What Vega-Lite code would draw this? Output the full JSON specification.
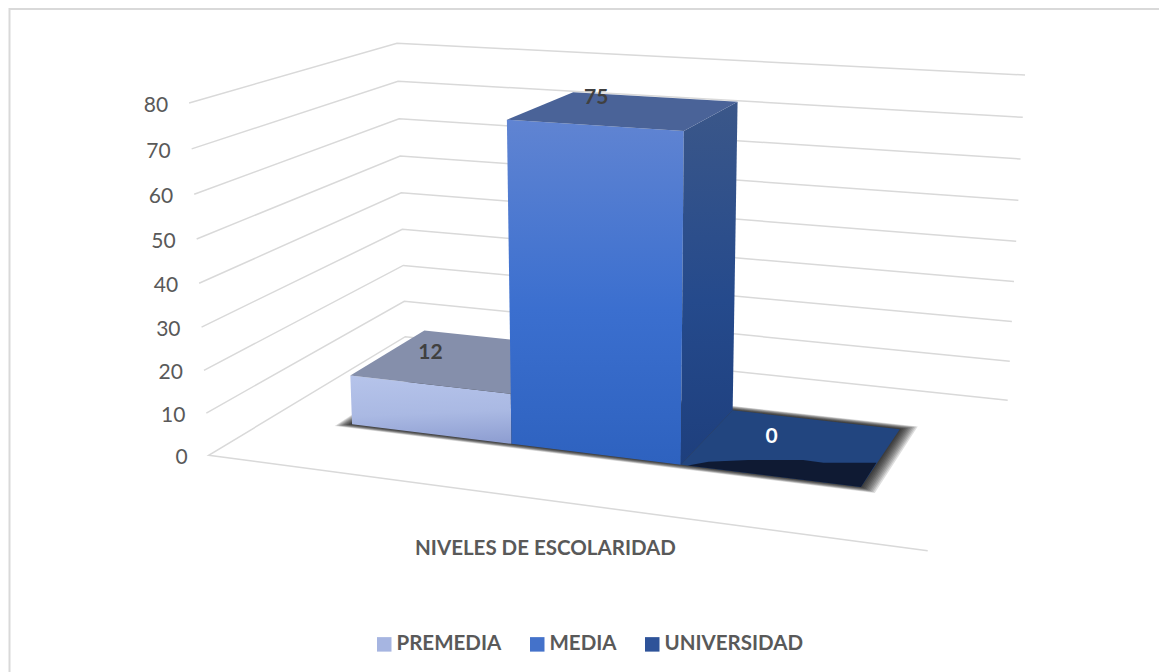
{
  "$schema": "https://vega.github.io/schema/vega-lite/v6.json",
  "width": 1159,
  "height": 672,
  "padding": 0,
  "autosize": {"type": "none"},
  "background": "#ffffff",
  "config": {"view": {"stroke": null}, "font": "Lato"},
  "datasets": {
    "niveles": [
      {"nivel": "PREMEDIA", "valor": 12, "orden": 0},
      {"nivel": "MEDIA", "valor": 75, "orden": 1},
      {"nivel": "UNIVERSIDAD", "valor": 0, "orden": 2}
    ],
    "marcas": [
      {"marca": 0}, {"marca": 10}, {"marca": 20}, {"marca": 30}, {"marca": 40},
      {"marca": 50}, {"marca": 60}, {"marca": 70}, {"marca": 80}
    ],
    "pasos": [
      {"paso": 1}, {"paso": 2}, {"paso": 3}, {"paso": 4}, {"paso": 5},
      {"paso": 6}, {"paso": 7}, {"paso": 8}, {"paso": 9}, {"paso": 10}
    ]
  },
  "data": {"name": "niveles"},
  "transform": [
    {"calculate": "0.125 + 0.25 * datum.orden", "as": "u0"},
    {"calculate": "datum.u0 + 0.25", "as": "u1"},
    {"calculate": "datum.valor / 80", "as": "alto"},
    {"calculate": "['frente', 'lado', 'tapa']", "as": "cara"},
    {"flatten": ["cara"]},
    {"calculate": "[0, 1, 2, 3]", "as": "esquina"},
    {"flatten": ["esquina"]},
    {"calculate": "datum.cara == 'lado' ? datum.u1 : (datum.esquina == 1 || datum.esquina == 2 ? datum.u1 : datum.u0)", "as": "u"},
    {"calculate": "datum.cara == 'frente' ? 0.3 : datum.cara == 'lado' ? (datum.esquina == 1 || datum.esquina == 2 ? 0.7 : 0.3) : (datum.esquina >= 2 ? 0.7 : 0.3)", "as": "w"},
    {"calculate": "datum.cara == 'tapa' ? datum.alto : (datum.esquina >= 2 ? datum.alto : 0)", "as": "t"},
    {"calculate": "1 - 0.12269 * datum.u + 0.20985 * datum.w - 0.046 * datum.t", "as": "d"},
    {"calculate": "(605.18 * datum.u + 281.65 * datum.w - 28.3 * datum.t + 208.7) / datum.d", "as": "px"},
    {"calculate": "(27.83 * datum.u - 47.94 * datum.w - 357.04 * datum.t + 455.3) / datum.d", "as": "py"}
  ],
  "encoding": {
    "x": {
      "field": "px", "type": "quantitative",
      "scale": {"domain": [0, 1159], "range": [0, 1159], "nice": false, "zero": false},
      "axis": {"orient": "bottom", "domain": false, "ticks": false, "labels": false, "grid": false, "title": "NIVELES DE ESCOLARIDAD", "titleFont": "Lato", "titleFontSize": 20.5, "titleFontWeight": "bold", "titleColor": "#595959", "titleAnchor": "middle", "titleAlign": "center", "titleBaseline": "alphabetic", "titleX": 545, "titleY": -118}
    },
    "y": {"field": "py", "type": "quantitative", "scale": {"domain": [0, 672], "range": [0, 672], "nice": false, "zero": false}, "axis": null},
    "order": {"field": "esquina", "type": "quantitative"}
  },
  "layer": [
    {
      "description": "Marco del grafico",
      "data": {"values": [{"a": 0}]},
      "transform": [],
      "mark": {"type": "rect", "fill": null, "stroke": "#d9d9d9", "strokeWidth": 2},
      "encoding": {
        "x": {"value": 9.5},
        "x2": {"value": 1170},
        "y": {"value": 9},
        "y2": {"value": 690},
        "order": null
      }
    },
    {
      "description": "Lineas de division sobre las paredes y el suelo",
      "data": {"name": "marcas"},
      "transform": [
        {"calculate": "datum.marca / 80", "as": "t"},
        {"calculate": "[0, 1, 2, 3]", "as": "esquina"},
        {"flatten": ["esquina"]},
        {"filter": "datum.esquina > 0 || datum.marca == 0"},
        {"calculate": "datum.esquina == 0 || datum.esquina == 3 ? 1 : 0", "as": "u"},
        {"calculate": "datum.esquina >= 2 ? 1 : 0", "as": "w"},
        {"calculate": "1 - 0.12269 * datum.u + 0.20985 * datum.w - 0.046 * datum.t", "as": "d"},
        {"calculate": "(605.18 * datum.u + 281.65 * datum.w - 28.3 * datum.t + 208.7) / datum.d", "as": "px"},
        {"calculate": "(27.83 * datum.u - 47.94 * datum.w - 357.04 * datum.t + 455.3) / datum.d", "as": "py"}
      ],
      "mark": {"type": "line", "stroke": "#d9d9d9", "strokeWidth": 1.5},
      "encoding": {"detail": {"field": "marca"}}
    },
    {
      "description": "Etiquetas del eje de valores",
      "data": {"name": "marcas"},
      "transform": [
        {"calculate": "datum.marca / 80", "as": "t"},
        {"calculate": "1 - 0.046 * datum.t", "as": "d"},
        {"calculate": "(208.7 - 28.3 * datum.t) / datum.d", "as": "px"},
        {"calculate": "(455.3 - 357.04 * datum.t) / datum.d", "as": "py"}
      ],
      "mark": {"type": "text", "align": "right", "baseline": "middle", "dx": -21, "dy": 3, "fontSize": 21, "font": "Lato", "color": "#595959"},
      "encoding": {"text": {"field": "marca"}, "order": null}
    },
    {
      "description": "Sombra difusa bajo la fila de barras",
      "data": {"name": "pasos"},
      "transform": [
        {"calculate": "[0, 1, 2, 3]", "as": "esquina"},
        {"flatten": ["esquina"]},
        {"calculate": "datum.esquina == 1 || datum.esquina == 2 ? 0.875 + 0.0022 * datum.paso : 0.125 - 0.002 * datum.paso", "as": "u"},
        {"calculate": "datum.esquina >= 2 ? 0.7 + 0.0032 * datum.paso : 0.3 - 0.0025 * datum.paso", "as": "w"},
        {"calculate": "1 - 0.12269 * datum.u + 0.20985 * datum.w", "as": "d"},
        {"calculate": "(605.18 * datum.u + 281.65 * datum.w + 208.7) / datum.d", "as": "px"},
        {"calculate": "(27.83 * datum.u - 47.94 * datum.w + 455.3) / datum.d", "as": "py"}
      ],
      "mark": {"type": "line", "fill": "#000000", "fillOpacity": 0.13, "strokeOpacity": 0},
      "encoding": {"detail": {"field": "paso"}}
    },
    {
      "transform": [{"filter": "datum.nivel == 'PREMEDIA' && datum.cara == 'frente'"}],
      "mark": {"type": "line", "strokeOpacity": 0, "fill": {"gradient": "linear", "x1": 0.45, "y1": 0, "x2": 0.55, "y2": 1, "stops": [{"offset": 0, "color": "#b5c3ea"}, {"offset": 0.55, "color": "#aab9e3"}, {"offset": 1, "color": "#8f9fd2"}]}}
    },
    {
      "transform": [{"filter": "datum.nivel == 'PREMEDIA' && datum.cara == 'tapa'"}],
      "mark": {"type": "line", "strokeOpacity": 0, "fill": "#858fab"}
    },
    {
      "transform": [{"filter": "datum.nivel == 'MEDIA' && datum.cara == 'frente'"}],
      "mark": {"type": "line", "strokeOpacity": 0, "fill": {"gradient": "linear", "x1": 0.5, "y1": 0, "x2": 0.5, "y2": 1, "stops": [{"offset": 0, "color": "#6084d2"}, {"offset": 0.55, "color": "#3b6fcf"}, {"offset": 1, "color": "#2e62bf"}]}}
    },
    {
      "transform": [{"filter": "datum.nivel == 'MEDIA' && datum.cara == 'lado'"}],
      "mark": {"type": "line", "strokeOpacity": 0, "fill": {"gradient": "linear", "x1": 0.5, "y1": 0, "x2": 0.5, "y2": 1, "stops": [{"offset": 0, "color": "#3b5789"}, {"offset": 0.55, "color": "#254a8c"}, {"offset": 1, "color": "#1e3f7d"}]}}
    },
    {
      "transform": [{"filter": "datum.nivel == 'MEDIA' && datum.cara == 'tapa'"}],
      "mark": {"type": "line", "strokeOpacity": 0, "fill": "#4a6398"}
    },
    {
      "transform": [{"filter": "datum.nivel == 'UNIVERSIDAD' && datum.cara == 'tapa'"}],
      "mark": {"type": "line", "strokeOpacity": 0, "fill": "#22457f"}
    },
    {
      "description": "Zona oscura al frente de la barra de altura cero",
      "data": {"name": "niveles"},
      "transform": [
        {"filter": "datum.valor == 0"},
        {"calculate": "[0, 1, 2, 3, 4, 5, 6]", "as": "esquina"},
        {"flatten": ["esquina"]},
        {"calculate": "[0.635, 0.657, 0.706, 0.777, 0.806, 0.874, 0.875][datum.esquina]", "as": "u"},
        {"calculate": "[0.3, 0.339, 0.38, 0.421, 0.419, 0.459, 0.3][datum.esquina]", "as": "w"},
        {"calculate": "1 - 0.12269 * datum.u + 0.20985 * datum.w", "as": "d"},
        {"calculate": "(605.18 * datum.u + 281.65 * datum.w + 208.7) / datum.d", "as": "px"},
        {"calculate": "(27.83 * datum.u - 47.94 * datum.w + 455.3) / datum.d", "as": "py"}
      ],
      "mark": {"type": "line", "strokeOpacity": 0, "fill": "#0f1a33"}
    },
    {
      "description": "Valores sobre cada barra",
      "data": {"name": "niveles"},
      "transform": [
        {"calculate": "0.125 + 0.25 * datum.orden + [0.06, 0.051, 0.086][datum.orden]", "as": "u"},
        {"calculate": "[0.53, 0.635, 0.545][datum.orden]", "as": "w"},
        {"calculate": "datum.valor / 80", "as": "t"},
        {"calculate": "1 - 0.12269 * datum.u + 0.20985 * datum.w - 0.046 * datum.t", "as": "d"},
        {"calculate": "(605.18 * datum.u + 281.65 * datum.w - 28.3 * datum.t + 208.7) / datum.d", "as": "px"},
        {"calculate": "(27.83 * datum.u - 47.94 * datum.w - 357.04 * datum.t + 455.3) / datum.d", "as": "py"}
      ],
      "mark": {"type": "text", "fontSize": 21, "fontWeight": "bold", "font": "Lato", "baseline": "middle", "align": "center"},
      "encoding": {
        "text": {"field": "valor"},
        "color": {"condition": {"test": "datum.valor == 0", "value": "#ffffff"}, "value": "#404040"},
        "order": null
      }
    },
    {
      "description": "Leyenda de niveles",
      "transform": [{"filter": "datum.cara == 'frente' && datum.esquina == 0"}],
      "mark": {"type": "point", "filled": true, "shape": "square", "size": 0},
      "encoding": {
        "fill": {
          "field": "nivel", "type": "nominal",
          "scale": {
            "domain": ["PREMEDIA", "MEDIA", "UNIVERSIDAD"],
            "range": ["#a6b5e1", "#4472ca", "#2e5399"]
          },
          "legend": {
            "orient": "none", "legendX": 374, "legendY": 634, "direction": "horizontal", "title": null,
            "symbolType": "square", "symbolSize": 210, "symbolStrokeWidth": 0, "symbolOpacity": 1,
            "labelFont": "Lato", "labelFontSize": 20.5, "labelFontWeight": "bold", "labelColor": "#595959", "labelOffset": 2, "columnPadding": 25,
            "encode": {
              "symbols": {
                "update": {
                  "fill": {"signal": "{gradient: 'linear', x1: 0, y1: 0, x2: 0, y2: 1, stops: datum.value == 'PREMEDIA' ? [{offset: 0, color: '#b3c1e9'}, {offset: 1, color: '#97a7d9'}] : datum.value == 'MEDIA' ? [{offset: 0, color: '#5a80d4'}, {offset: 1, color: '#2f63c0'}] : [{offset: 0, color: '#3a5c9e'}, {offset: 1, color: '#224a94'}]}"}
                }
              }
            }
          }
        }
      }
    }
  ]
}
